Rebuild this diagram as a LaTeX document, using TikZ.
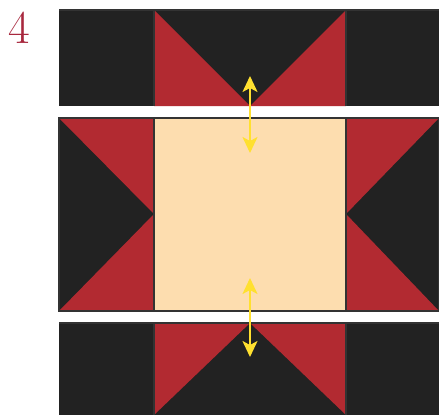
\documentclass[tikz,border=0pt]{standalone}
\usetikzlibrary{arrows.meta}
\definecolor{quiltblack}{HTML}{222222}
\definecolor{quiltred}{HTML}{B22A31}
\definecolor{quiltpeach}{HTML}{FDDDAF}
\definecolor{seam}{HTML}{333333}
\definecolor{arrowyellow}{HTML}{FFE030}
\definecolor{labelred}{HTML}{A8283E}
\tikzset{
  seamline/.style={draw=seam, line width=1.2pt},
  pressarrow/.style={arrowyellow, line width=2pt, {Stealth[length=16pt,width=15pt,inset=4pt]}-{Stealth[length=16pt,width=15pt,inset=4pt]}},
}
\begin{document}
\begin{tikzpicture}[x=1pt, y=-1pt]
    \useasboundingbox (0,0) rectangle (439,415);
    \node[labelred, font=\fontsize{47}{47}\selectfont, anchor=base] (blocknum) at (19,43) {4};

    % top row
    \fill[quiltblack] (59,10) rectangle (439,106);
    \fill[quiltred] (154,10) -- (154,106) -- (250,106) -- cycle;
    \fill[quiltred] (346,10) -- (346,106) -- (250,106) -- cycle;
    \draw[seamline] (59,10) -- (439,10);
    \draw[seamline] (154,10) -- (154,106);
    \draw[seamline] (346,10) -- (346,106);

    % middle row
    \fill[quiltblack] (59,118) rectangle (439,311);
    \fill[quiltred] (59,118) -- (154,118) -- (154,214) -- cycle;
    \fill[quiltred] (59,311) -- (154,311) -- (154,214) -- cycle;
    \fill[quiltred] (439,118) -- (346,118) -- (346,214) -- cycle;
    \fill[quiltred] (439,311) -- (346,311) -- (346,214) -- cycle;
    \fill[quiltpeach] (154,118) rectangle (346,311);
    \draw[seamline] (59,118) rectangle (439,311);
    \draw[seamline] (154,118) rectangle (346,311);

    % bottom row
    \fill[quiltblack] (59,323) rectangle (439,415);
    \fill[quiltred] (154,323) -- (250,323) -- (154,415) -- cycle;
    \fill[quiltred] (346,323) -- (250,323) -- (346,415) -- cycle;
    \draw[seamline] (59,323) -- (439,323);
    \draw[seamline] (154,323) -- (154,415);
    \draw[seamline] (346,323) -- (346,415);

    % pressing arrows
    \coordinate (top_a) at (250,76);
    \coordinate (top_b) at (250,153);
    \coordinate (bot_a) at (250,278);
    \coordinate (bot_b) at (250,357);
    \draw[pressarrow] (top_a) -- (top_b);
    \draw[pressarrow] (bot_a) -- (bot_b);
\end{tikzpicture}
\end{document}
